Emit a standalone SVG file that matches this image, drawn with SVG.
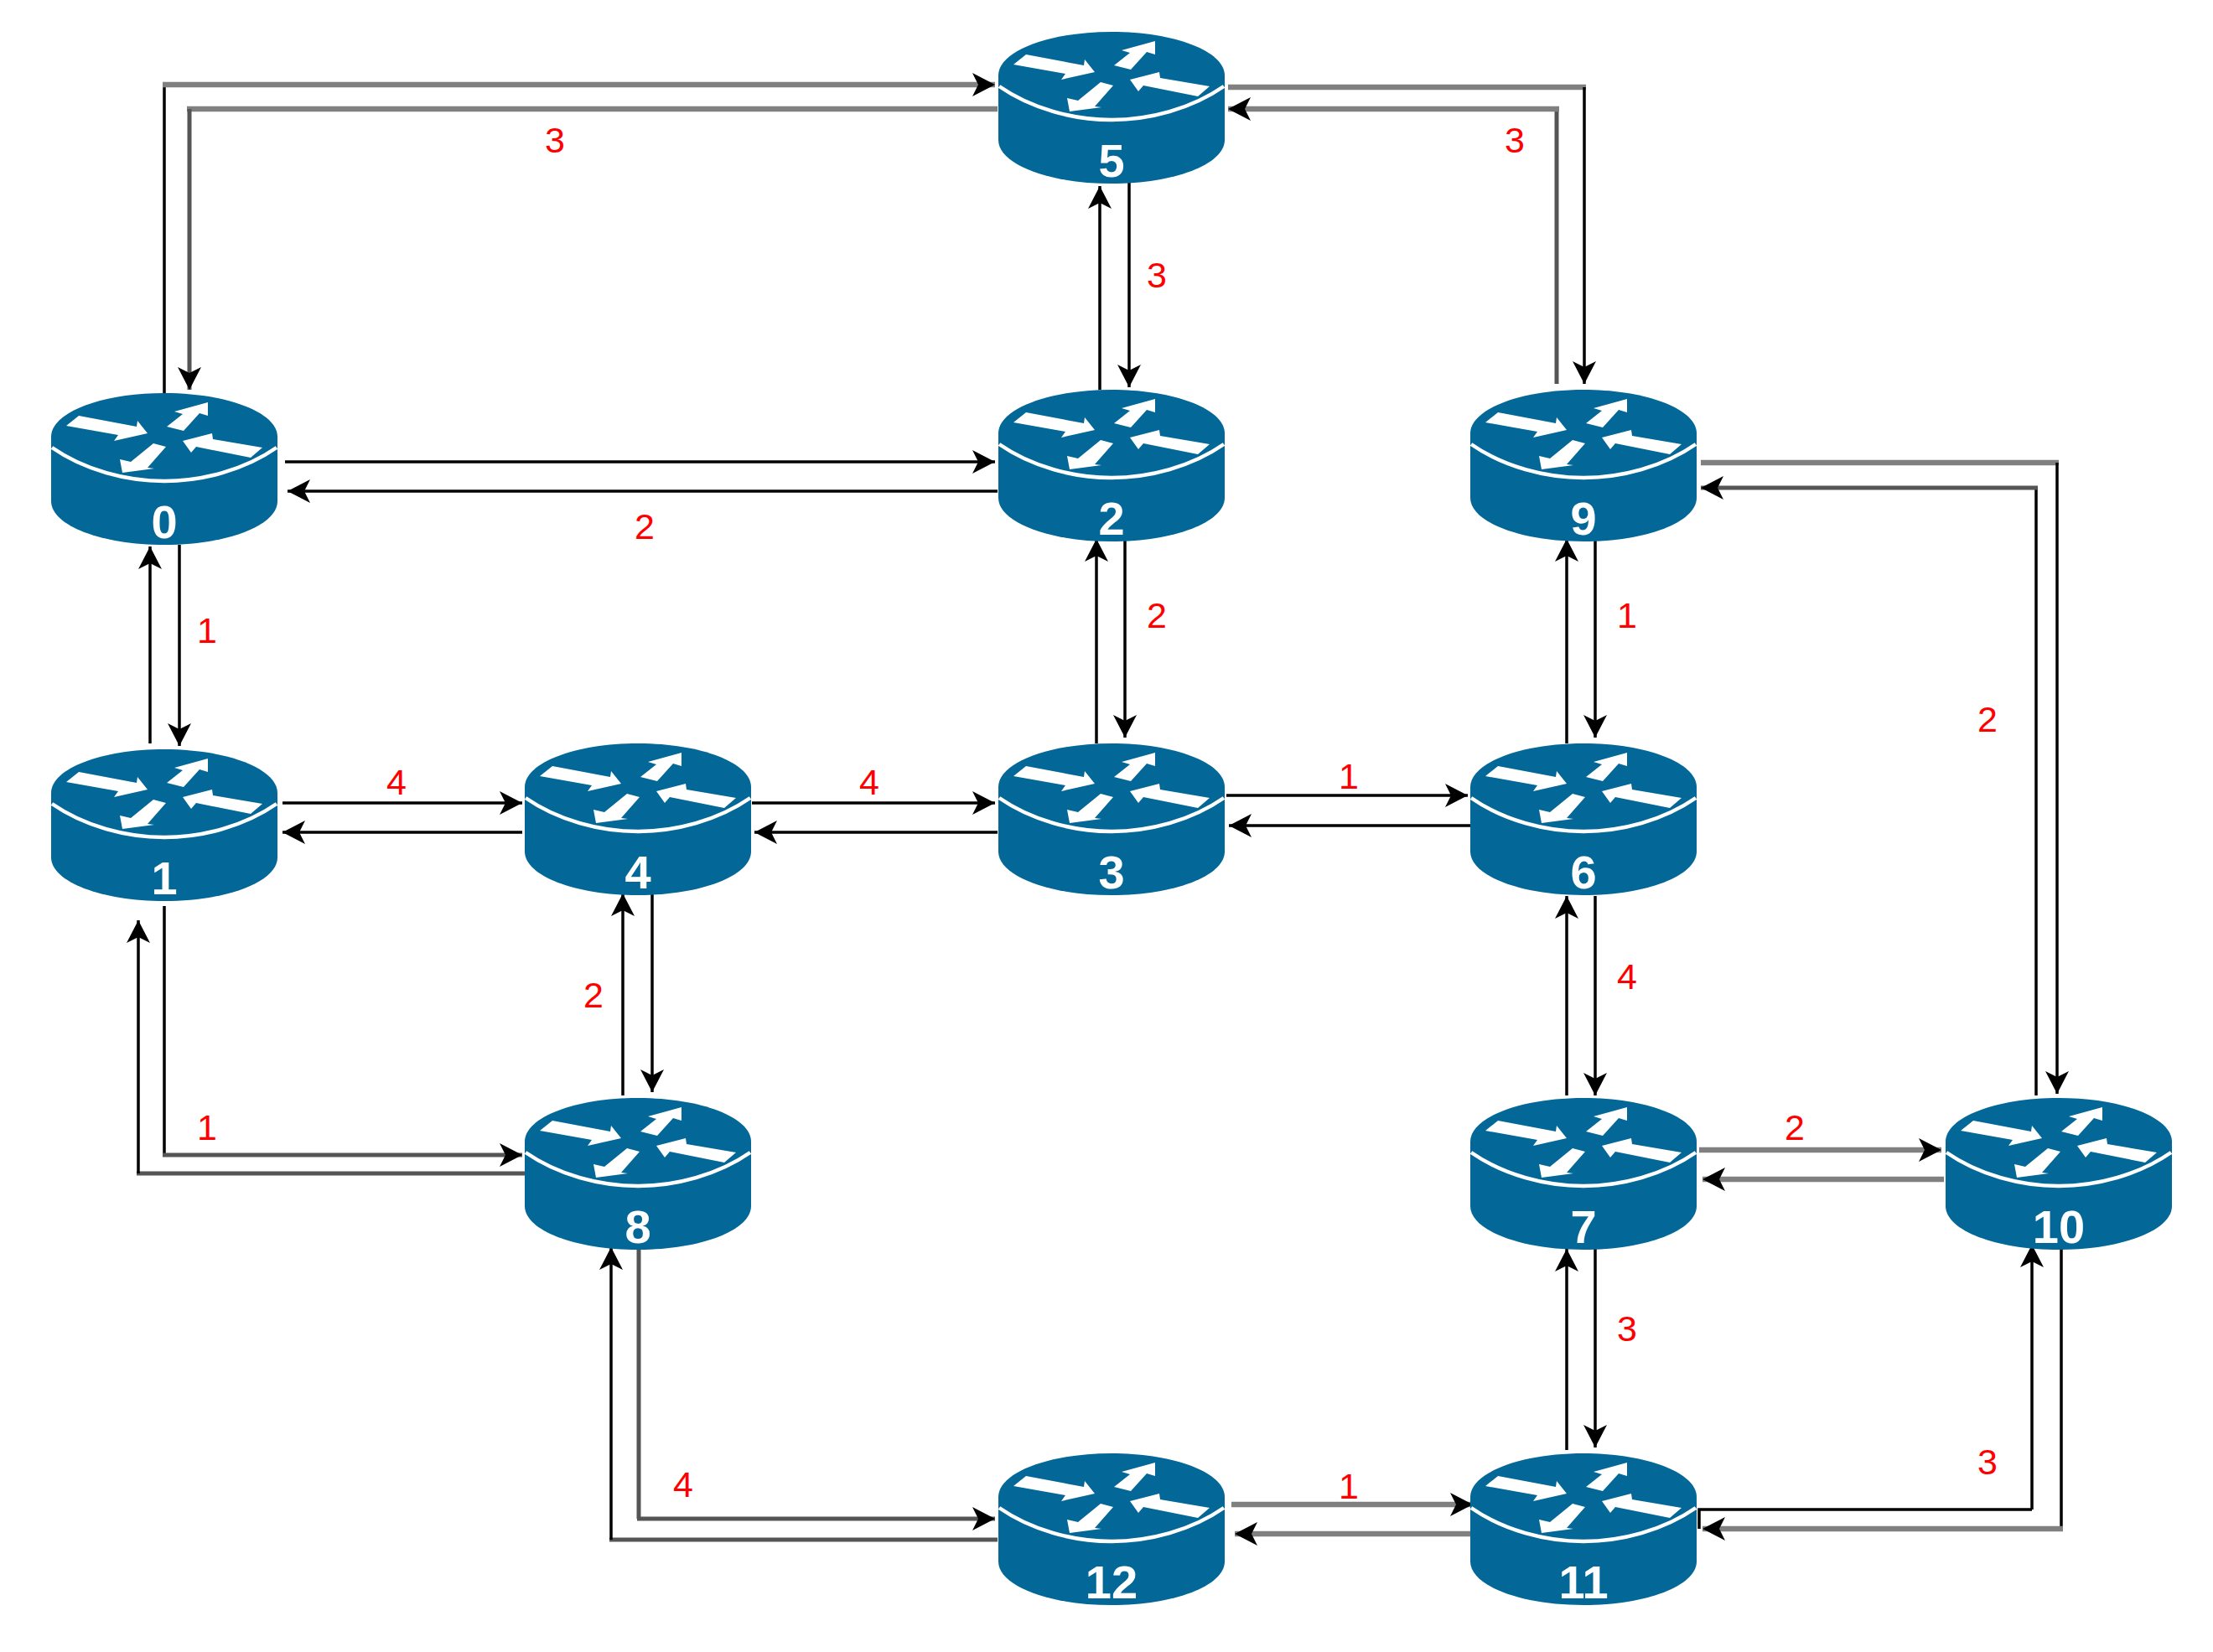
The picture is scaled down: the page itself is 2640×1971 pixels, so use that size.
<svg xmlns="http://www.w3.org/2000/svg" width="2640" height="1971" viewBox="0 0 2640 1971">
<style>
.c{fill:none;stroke:#000;stroke-width:3.5}
.m{marker-end:url(#a)}
.g{fill:none;stroke:#808080;stroke-width:6.5}
.d{fill:none;stroke:#555;stroke-width:5}
.n{font:bold 56px "Liberation Sans",Arial,sans-serif;fill:#fff;text-anchor:middle}
.l{font:43px "Liberation Sans",Arial,sans-serif;fill:#f00;text-anchor:middle}
.w{fill:#fff}
</style>
<defs>
<marker id="a" markerUnits="userSpaceOnUse" markerWidth="30" markerHeight="30" refX="27" refY="14" orient="auto" overflow="visible"><path d="M27 14L0 0L7 14L0 28Z" fill="#000"/></marker>
<g id="r">
<path d="M0 52C0 23 60 0 135 0S270 23 270 52V129C270 158 210 181 135 181S0 158 0 129Z" fill="#036897"/>
<path d="M1 65C40 92 90 105 135 105S230 92 269 65" fill="none" stroke="#fff" stroke-width="4.5"/>
<path class="w" d="M18 39L33 27L102 40L103 33L115 48L75 57L80 50Z"/>
<path class="w" d="M138 40L157 25L147 22L187 11L187 27L177 24L158 45Z"/>
<path class="w" d="M157 57L192 48L193 55L252 65L238 77L173 64L167 71Z"/>
<path class="w" d="M122 60L137 64L115 89L123 90L85 95L82 79L95 82Z"/>
</g>
</defs>
<rect width="2640" height="1971" fill="#fff"/>
<g id="connectors">
<path class="c" d="M196 469V101"/><path class="g m" d="M194 101H1187"/>
<path class="g" d="M1190 130H223"/><path class="d m" d="M226 130V465"/>
<path class="g" d="M1465 104H1892"/><path class="c m" d="M1890 104V458"/>
<path class="d" d="M1857 458V130"/><path class="g m" d="M1860 130H1465"/>
<path class="c m" d="M1312 465V222"/>
<path class="c m" d="M1347 218V462"/>
<path class="c m" d="M340 551H1187"/>
<path class="c m" d="M1190 586H343"/>
<path class="c m" d="M179 887V652"/>
<path class="c m" d="M214 650V890"/>
<path class="c m" d="M1308 887V643"/>
<path class="c m" d="M1342 640V880"/>
<path class="c m" d="M1869 887V643"/>
<path class="c m" d="M1903 640V880"/>
<path class="c m" d="M337 958H623"/>
<path class="c m" d="M623 993H337"/>
<path class="c m" d="M897 958H1187"/>
<path class="c m" d="M1190 993H900"/>
<path class="c m" d="M1463 949H1751"/>
<path class="c m" d="M1755 985H1466"/>
<path class="c m" d="M1903 1069V1307"/>
<path class="c m" d="M1869 1307V1069"/>
<path class="c m" d="M778 1066V1303"/>
<path class="c m" d="M743 1307V1066"/>
<path class="c" d="M196 1081V1378"/><path class="d m" d="M194 1378H623"/>
<path class="d" d="M627 1400H163"/><path class="c m" d="M165 1400V1098"/>
<path class="g" d="M2029 552H2456"/><path class="c m" d="M2454 552V1305"/>
<path class="c" d="M2429 1307V582"/><path class="d m" d="M2431 582H2029"/>
<path class="g m" d="M2027 1372H2316"/>
<path class="g m" d="M2319 1407H2031"/>
<path class="c" d="M2459 1483V1824"/><path class="g m" d="M2461 1824H2031"/>
<path class="c" d="M2027 1824V1801H2424"/><path class="c m" d="M2424 1801V1485"/>
<path class="c m" d="M1903 1490V1727"/>
<path class="c m" d="M1869 1730V1490"/>
<path class="d" d="M762 1490V1812"/><path class="d m" d="M760 1812H1187"/>
<path class="d" d="M1190 1837H727"/><path class="c m" d="M729 1837V1488"/>
<path class="g m" d="M1469 1795H1757"/>
<path class="g m" d="M1755 1830H1473"/>
</g>
<g id="node-0"><use href="#r" x="61" y="469"/><text class="n" x="196" y="642">0</text></g>
<g id="node-1"><use href="#r" x="61" y="894"/><text class="n" x="196" y="1067">1</text></g>
<g id="node-2"><use href="#r" x="1191" y="465"/><text class="n" x="1326" y="638">2</text></g>
<g id="node-3"><use href="#r" x="1191" y="887"/><text class="n" x="1326" y="1060">3</text></g>
<g id="node-4"><use href="#r" x="626" y="887"/><text class="n" x="761" y="1060">4</text></g>
<g id="node-5"><use href="#r" x="1191" y="38"/><text class="n" x="1326" y="211">5</text></g>
<g id="node-6"><use href="#r" x="1754" y="887"/><text class="n" x="1889" y="1060">6</text></g>
<g id="node-7"><use href="#r" x="1754" y="1310"/><text class="n" x="1889" y="1483">7</text></g>
<g id="node-8"><use href="#r" x="626" y="1310"/><text class="n" x="761" y="1483">8</text></g>
<g id="node-9"><use href="#r" x="1754" y="465"/><text class="n" x="1889" y="638">9</text></g>
<g id="node-10"><use href="#r" x="2321" y="1310"/><text class="n" x="2456" y="1483">10</text></g>
<g id="node-11"><use href="#r" x="1754" y="1734"/><text class="n" x="1889" y="1907">11</text></g>
<g id="node-12"><use href="#r" x="1191" y="1734"/><text class="n" x="1326" y="1907">12</text></g>
<g id="labels">
<text class="l" x="662" y="182">3</text>
<text class="l" x="1807" y="182">3</text>
<text class="l" x="1380" y="343">3</text>
<text class="l" x="769" y="643">2</text>
<text class="l" x="247" y="767">1</text>
<text class="l" x="1380" y="749">2</text>
<text class="l" x="1941" y="749">1</text>
<text class="l" x="2371" y="873">2</text>
<text class="l" x="473" y="948">4</text>
<text class="l" x="1037" y="948">4</text>
<text class="l" x="1609" y="941">1</text>
<text class="l" x="1941" y="1180">4</text>
<text class="l" x="708" y="1202">2</text>
<text class="l" x="247" y="1360">1</text>
<text class="l" x="2141" y="1360">2</text>
<text class="l" x="1941" y="1600">3</text>
<text class="l" x="815" y="1786">4</text>
<text class="l" x="1609" y="1788">1</text>
<text class="l" x="2371" y="1759">3</text>
</g>
</svg>
